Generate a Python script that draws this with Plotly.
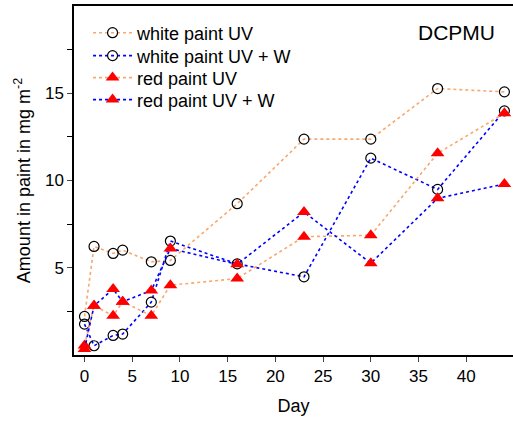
import plotly.graph_objects as go

days = [0, 1, 3, 4, 7, 9, 16, 23, 30, 37, 44]

white_uv = [2.21, 6.22, 5.82, 6.01, 5.34, 5.42, 8.67, 12.37, 12.37, 15.27, 15.08]
white_uv_w = [1.77, 0.53, 1.12, 1.20, 3.03, 6.53, 5.22, 4.48, 11.28, 9.49, 13.99]
red_uv = [0.55, 2.82, 2.25, 3.05, 2.25, 4.0, 4.38, 6.78, 6.86, 11.56, 13.85]
red_uv_w = [0.35, 2.82, 3.78, 3.05, 3.70, 6.10, 5.20, 8.19, 5.26, 8.98, 9.80]

x_ticks = [0, 5, 10, 15, 20, 25, 30, 35, 40]
y_ticks = [5, 10, 15]
y_minor = [2.5, 7.5, 12.5, 17.5]

ORANGE = "#F7A86E"
BLUE = "#0000FF"
RED = "#FF0000"

circle = dict(symbol="circle-open", size=10, color="black", line=dict(width=1.2, color="black"))
triangle = dict(symbol="triangle-up", size=12, color=RED, line=dict(width=0))

fig = go.Figure()
# each trace gets its own legend so the row spacing can match the reference
fig.add_trace(go.Scatter(x=days, y=white_uv, name="white paint UV", mode="lines+markers",
                         line=dict(color=ORANGE, dash="dot", width=1.6), marker=circle,
                         legend="legend"))
fig.add_trace(go.Scatter(x=days, y=white_uv_w, name="white paint UV + W", mode="lines+markers",
                         line=dict(color=BLUE, dash="dot", width=1.6), marker=circle,
                         legend="legend2"))
fig.add_trace(go.Scatter(x=days, y=red_uv, name="red paint UV", mode="lines+markers",
                         line=dict(color=ORANGE, dash="dot", width=1.6), marker=triangle,
                         legend="legend3"))
fig.add_trace(go.Scatter(x=days, y=red_uv_w, name="red paint UV + W", mode="lines+markers",
                         line=dict(color=BLUE, dash="dot", width=1.6), marker=triangle,
                         legend="legend4"))

fig.add_annotation(text="DCPMU", xref="paper", yref="paper", x=0.964, y=0.923,
                   xanchor="right", yanchor="middle", showarrow=False,
                   font=dict(size=21, color="black"))

leg = dict(x=0.032, xanchor="left", yanchor="middle", bgcolor="rgba(0,0,0,0)",
           font=dict(size=18), itemwidth=39)

fig.update_layout(
    width=513, height=421,
    margin=dict(l=74, r=0, t=6, b=66),
    paper_bgcolor="white", plot_bgcolor="white",
    font=dict(family="Liberation Sans, Arial, sans-serif", size=17, color="black"),
    showlegend=True,
    legend=dict(leg, y=0.9226),
    legend2=dict(leg, y=0.857),
    legend3=dict(leg, y=0.794),
    legend4=dict(leg, y=0.731),
)
fig.update_xaxes(
    range=[-1.1, 44.9], tickvals=x_ticks, ticks="outside", ticklen=5, tickwidth=1.3,
    showline=True, linecolor="black", linewidth=1.5, mirror=True,
    showgrid=False, zeroline=False,
    title=dict(text="Day", font=dict(size=18), standoff=14),
)
fig.update_yaxes(
    range=[0, 20], tickvals=y_ticks, ticks="outside", ticklen=5, tickwidth=1.3,
    minor=dict(tickvals=y_minor, ticks="outside", ticklen=5, tickwidth=1.3, tickcolor="black"),
    showline=True, linecolor="black", linewidth=1.5, mirror=False,
    showgrid=False, zeroline=False,
    title=dict(text="Amount in paint in mg m<sup>-2</sup>", font=dict(size=18), standoff=10),
)

fig.write_html("out.html", config={"displayModeBar": False},
               post_script="document.body.style.margin='0';")
